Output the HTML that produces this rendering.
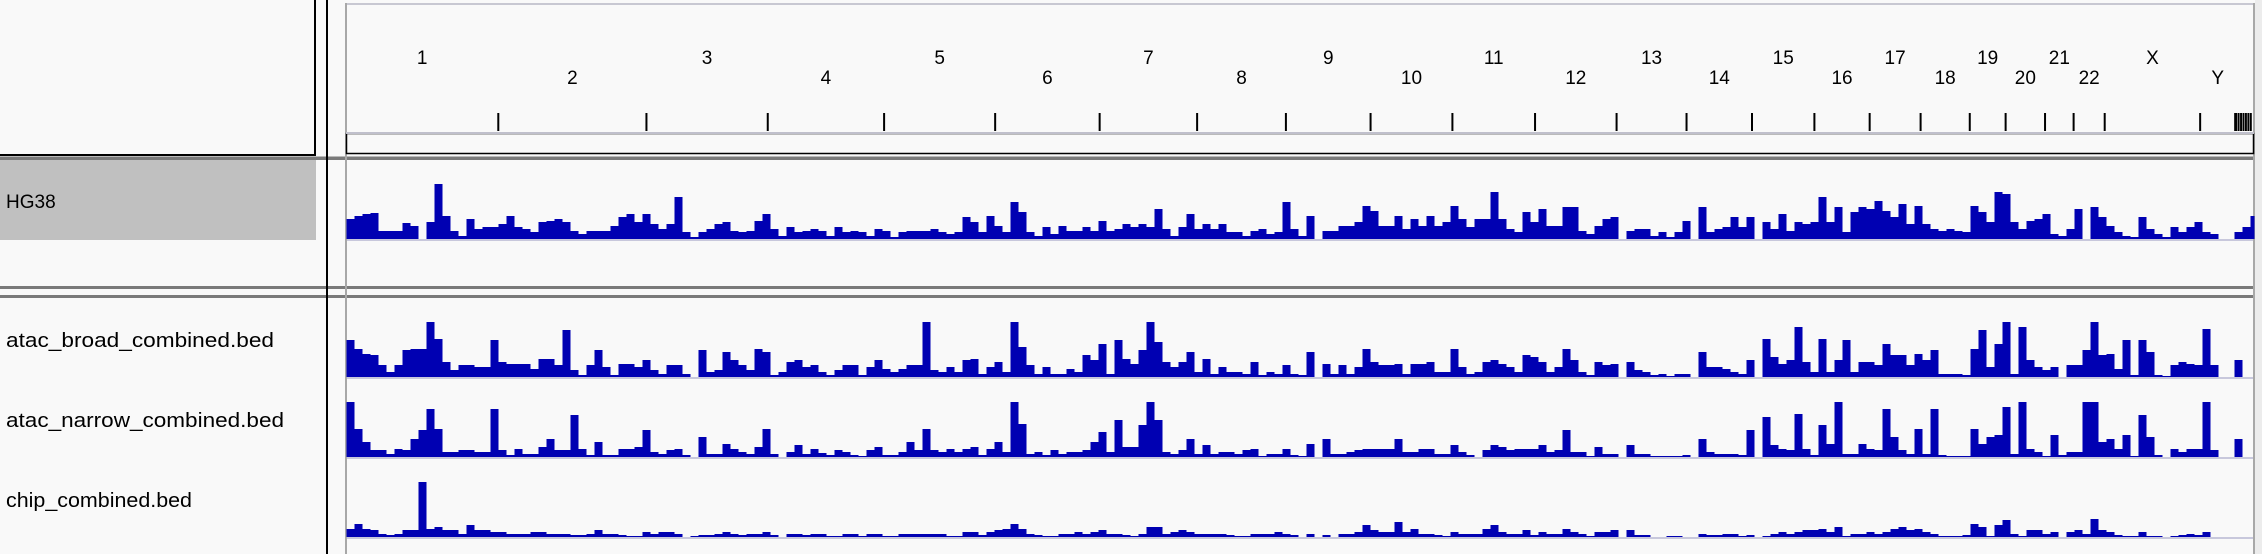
<!DOCTYPE html>
<html><head><meta charset="utf-8"><title>IGV genome view</title>
<style>
html,body{margin:0;padding:0;background:#f9f9f9;}
svg{display:block;font-family:"Liberation Sans",Arial,sans-serif;}
</style></head>
<body>
<svg id="igv" width="2262" height="554" viewBox="0 0 2262 554" xmlns="http://www.w3.org/2000/svg">
  <rect x="0" y="0" width="2262" height="554" fill="#f9f9f9"/>
  <rect x="0" y="0" width="315" height="155" fill="#f9f9f9"/>
  <line x1="315" y1="0" x2="315" y2="156" stroke="#000" stroke-width="2"/>
  <line x1="0" y1="155" x2="316" y2="155" stroke="#000" stroke-width="2"/>
  <rect x="0" y="156.5" width="2262" height="3.5" fill="#7a7a7a"/>
  <rect x="0" y="286" width="2262" height="3" fill="#7a7a7a"/>
  <rect x="0" y="295" width="2262" height="3" fill="#7a7a7a"/>
  <rect x="2255" y="0" width="7" height="554" fill="#ececec"/>
  <line x1="327" y1="0" x2="327" y2="554" stroke="#000" stroke-width="2"/>
  <rect x="346" y="3" width="1908" height="2" fill="#c8c8d2"/>
  <line x1="346" y1="3" x2="346" y2="554" stroke="#a8a8a8" stroke-width="2"/>
  <line x1="2254" y1="3" x2="2254" y2="554" stroke="#a8a8a8" stroke-width="2"/>
  <rect x="346.5" y="133.5" width="1907" height="20" fill="#f9f9f9" stroke="#000" stroke-width="1.5"/>
  <line x1="346" y1="133" x2="2254" y2="133" stroke="#c0c0cc" stroke-width="2"/>
  <g id="ruler"></g>
  <rect x="0" y="160" width="316" height="80" fill="#c0c0c0"/>
  <text x="6" y="208" font-size="19" fill="#000">HG38</text>
  <text x="6" y="347" font-size="20" fill="#000" textLength="268" lengthAdjust="spacingAndGlyphs">atac_broad_combined.bed</text>
  <text x="6" y="427" font-size="20" fill="#000" textLength="278" lengthAdjust="spacingAndGlyphs">atac_narrow_combined.bed</text>
  <text x="6" y="507" font-size="20" fill="#000" textLength="186" lengthAdjust="spacingAndGlyphs">chip_combined.bed</text>
  <g id="tracks"></g>
</svg>
<script>
const chromNames = ['1','2','3','4','5','6','7','8','9','10','11','12','13','14','15','16','17','18','19','20','21','22','X','Y'];
const chromLengths = [248.96,242.19,198.30,190.21,181.54,170.81,159.35,145.14,138.39,133.80,135.09,133.28,114.36,107.04,101.99,90.34,83.26,80.37,58.62,64.44,46.71,50.82,156.04,57.23];
const contigLengths = [4,4,4,4,4,4,4];

const hg38Values = [20,23,25,26,8,8,8,16,13,0,17,55,23,8,3,20,10,12,12,15,23,12,10,7,17,18,20,17,8,5,8,8,8,13,22,25,17,25,15,10,15,42,7,2,7,10,15,17,8,7,8,18,25,10,3,12,7,8,10,8,
3,12,7,8,7,3,10,8,2,7,8,8,8,10,7,5,7,22,17,7,23,13,7,37,27,7,3,12,5,13,8,8,12,8,18,8,10,15,12,15,12,30,10,3,12,25,10,15,10,15,7,7,3,8,10,5,7,37,10,3,
23,0,8,8,13,13,17,33,28,13,13,23,10,20,13,23,13,17,33,20,12,20,20,47,20,10,7,27,17,30,13,13,32,32,8,5,13,20,22,0,8,10,10,3,7,2,7,18,0,32,7,10,12,22,12,22,0,17,10,25,
8,17,15,17,42,17,32,7,27,32,30,38,28,22,35,15,33,15,10,8,10,8,7,33,27,17,47,45,17,10,18,20,25,5,3,10,30,0,32,22,13,7,3,2,22,10,5,2,12,7,12,17,7,5,0,0,7,12,23];
const broadValues = [37,28,23,22,12,5,12,27,28,28,55,38,15,7,12,12,10,10,37,15,13,13,13,8,18,18,12,47,7,2,12,27,10,2,13,13,10,17,7,3,12,12,3,0,27,5,7,25,17,12,7,28,25,2,5,15,17,10,12,5,
2,7,12,12,2,10,17,8,5,8,12,12,55,7,5,10,5,17,18,3,10,15,5,55,30,12,3,10,3,3,8,5,22,17,33,3,37,18,13,27,55,35,15,10,15,25,5,18,3,10,5,5,3,15,2,5,3,12,3,2,
25,0,13,3,12,3,10,28,15,12,12,13,3,13,13,15,5,5,28,10,3,5,15,17,13,10,5,22,20,15,5,10,28,17,5,2,15,12,13,0,15,7,5,2,3,1,3,3,0,25,10,10,8,5,3,17,0,38,20,13,
17,50,15,5,38,5,17,37,5,15,15,12,33,22,22,12,23,17,27,3,3,3,2,28,47,10,33,55,3,50,17,10,7,10,0,12,12,27,55,22,23,8,37,2,37,25,2,1,12,15,13,12,48,12,0,0,17,0,0];
const narrowValues = [55,28,15,7,7,3,8,7,18,27,48,28,5,5,7,7,5,5,48,7,2,8,3,3,10,18,7,7,42,8,2,15,2,2,8,8,10,27,5,3,7,8,2,0,20,3,3,13,8,5,3,10,28,3,0,5,12,3,8,4,
2,7,5,2,1,7,10,2,2,5,15,7,28,7,5,8,5,8,10,2,8,15,5,55,33,3,5,2,7,3,5,5,7,15,25,5,37,10,10,32,55,37,5,3,7,18,3,12,3,5,5,3,7,8,1,3,3,8,2,1,
13,0,18,3,3,5,7,8,8,8,8,18,5,5,8,8,3,3,12,5,2,0,7,12,10,7,8,8,8,12,5,7,27,5,5,1,10,3,3,0,12,3,3,1,1,1,1,2,0,18,5,3,3,3,2,27,0,40,12,8,
7,43,8,2,32,13,55,3,3,13,8,7,48,20,7,3,28,3,48,2,1,1,1,28,13,20,22,50,3,55,8,5,1,22,2,5,5,55,55,15,18,8,22,1,42,20,2,0,8,5,8,8,55,7,0,0,18,0,0];
const chipValues = [8,13,8,7,3,2,3,7,7,55,8,10,7,7,3,12,7,7,5,5,3,3,3,5,5,3,3,3,2,2,3,7,3,3,2,1,1,5,3,5,5,3,0,1,2,2,3,5,3,2,3,3,5,2,0,3,3,2,3,3,
1,1,3,3,1,3,3,1,1,3,3,3,3,3,3,1,1,5,5,2,5,7,8,13,8,3,2,1,1,3,3,5,3,5,7,3,3,2,1,3,10,10,3,5,7,5,3,3,3,3,2,1,1,3,3,3,5,3,2,0,
3,0,2,0,3,3,5,12,7,5,5,15,5,8,3,3,2,1,5,3,3,3,8,12,5,3,3,7,2,5,3,3,8,5,3,1,5,5,7,0,7,2,2,0,0,1,1,0,0,3,2,2,3,3,1,2,0,1,3,5,
3,5,7,7,8,5,10,1,3,3,5,3,5,8,10,7,8,5,3,1,1,1,2,13,10,1,12,17,3,1,7,7,3,5,0,5,7,3,18,7,5,2,1,1,5,1,1,0,1,2,3,2,5,0,0,0,0,0,0];

const NS = 'http://www.w3.org/2000/svg';
const X0 = 346, XEND = 2254;
const SCALE = (2200 - X0) / 3030.8;
const BIN_MB = 8 / SCALE;
const Y_MAX = 55;
function xScale(mb){ return X0 + mb * SCALE; }
function yScale(v, base, h){ return base - (v / Y_MAX) * h; }

function mk(tag, attrs, parent){
  const el = document.createElementNS(NS, tag);
  for (const k in attrs) el.setAttribute(k, attrs[k]);
  parent.appendChild(el);
  return el;
}

const ruler = document.getElementById('ruler');
let cum = 0;
chromNames.forEach((name, i) => {
  const start = cum, end = cum + chromLengths[i];
  cum = end;
  const mid = xScale((start + end) / 2);
  const t = mk('text', {x: mid, y: (i % 2 === 0) ? 64 : 84, 'font-size': 19, 'text-anchor': 'middle', fill: '#000'}, ruler);
  t.textContent = name;
  
  
  const tk = mk('line', {x1: xScale(end), x2: xScale(end), y1: 113, y2: 131, stroke: '#000', 'stroke-width': 2}, ruler);
  
  
});
contigLengths.forEach((len) => {
  const start = cum, end = cum + len;
  cum = end;
  const r = mk('rect', {x: xScale(start), y: 113, width: Math.max(1, xScale(end) - xScale(start) - 0.5), height: 18, fill: '#000'}, ruler);
  
  
});

const tracksG = document.getElementById('tracks');
const tracks = [
  {name: 'hg38', values: hg38Values, base: 239},
  {name: 'atac-broad', values: broadValues, base: 377},
  {name: 'atac-narrow', values: narrowValues, base: 457},
  {name: 'chip', values: chipValues, base: 537}
];
tracks.forEach((tr) => {
  const g = mk('g', {}, tracksG);
  
  
  const bl = mk('rect', {x: X0 + 1, y: tr.base, width: XEND - X0 - 2, height: 2, fill: '#c8c8dc'}, g);
  
  
  tr.values.forEach((v, i) => {
    if (v <= 0) return;
    const x1 = xScale(i * BIN_MB);
    let x2 = xScale((i + 1) * BIN_MB);
    if (x2 > XEND) x2 = XEND;
    if (x2 <= x1) return;
    const y = yScale(v, tr.base, 55);
    const b = mk('rect', {x: x1 + 0.5, y: y, width: x2 - x1, height: tr.base - y, fill: '#0000b2'}, g);
    
    
  });
});
</script>
</body></html>
